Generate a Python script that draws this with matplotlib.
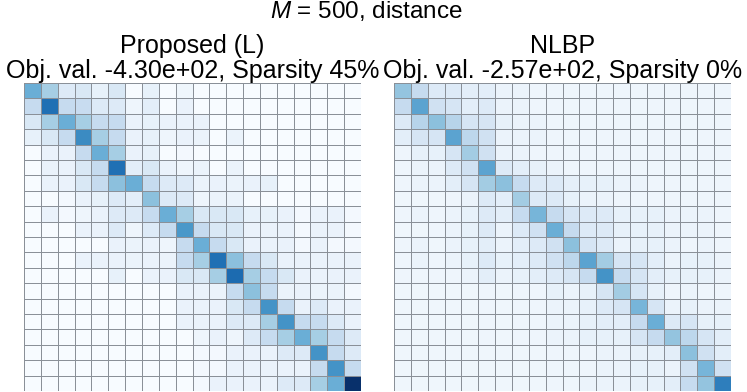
import numpy as np
import matplotlib
matplotlib.use("Agg")
import matplotlib.pyplot as plt

plt.rcParams['font.family'] = ['Liberation Sans', 'DejaVu Sans']
plt.rcParams['mathtext.fontset'] = 'custom'
plt.rcParams['mathtext.rm'] = 'Liberation Sans'
plt.rcParams['mathtext.it'] = 'Liberation Sans:italic'

suptitle = "$M$ = 500, distance"
titles = ["Proposed (L)\nObj. val. -4.30e+02, Sparsity 45%",
          "NLBP\nObj. val. -2.57e+02, Sparsity 0%"]

proposed = [
    [.50, .35, .13, .15, .08, .15, 0, .08, 0, .04, 0, 0, 0, 0, 0, 0, 0, 0, 0, 0],
    [.25, .75, .25, .24, .13, .13, .05, .10, 0, .07, 0, 0, 0, 0, 0, 0, 0, 0, 0, 0],
    [.15, .35, .50, .35, .25, .25, .07, .08, .07, .07, .07, 0, 0, 0, 0, 0, 0, 0, 0, 0],
    [.08, .15, .25, .65, .35, .25, .07, .08, .05, .07, .06, 0, .06, 0, 0, 0, 0, 0, 0, 0],
    [0, .07, .07, .25, .50, .35, .07, .08, 0, .02, 0, 0, 0, 0, 0, 0, 0, 0, 0, 0],
    [0, .07, .07, .15, .25, .75, .10, .15, .07, .05, .06, 0, .06, 0, 0, 0, 0, 0, 0, 0],
    [0, .07, .07, .15, .25, .42, .50, .25, .13, .13, .06, .07, .06, .07, .08, 0, 0, 0, 0, 0],
    [0, 0, .02, .07, .08, .13, .10, .42, .13, .13, .05, .06, .06, 0, 0, 0, 0, 0, 0, 0],
    [0, .07, .02, .05, .07, .13, .13, .25, .50, .35, .15, .15, .15, .08, .08, .07, .02, .07, .07, .02],
    [0, 0, 0, .07, .07, .13, .05, .13, .25, .60, .25, .15, .15, .07, .07, .07, .02, .07, .07, .02],
    [0, 0, 0, 0, 0, .07, .06, .07, .05, .25, .50, .25, .15, .07, .07, .07, .02, .07, .02, .02],
    [0, 0, 0, .07, .07, .07, .06, .07, .06, .25, .35, .75, .42, .25, .15, .07, .07, .07, .07, .07],
    [0, 0, 0, 0, 0, .08, 0, .07, .07, .15, .15, .35, .77, .35, .25, .15, .07, .07, .07, .07],
    [0, 0, 0, 0, 0, 0, 0, 0, 0, .07, .07, .06, .25, .42, .25, .06, .07, .06, .06, .02],
    [0, 0, 0, 0, 0, 0, 0, 0, 0, .07, .07, .07, .15, .25, .62, .25, .07, .13, .07, .07],
    [0, 0, 0, 0, 0, 0, 0, 0, 0, .07, .07, .07, .13, .13, .35, .62, .25, .25, .13, .07],
    [0, 0, 0, 0, 0, 0, 0, 0, 0, 0, .05, .07, .05, .13, .25, .35, .50, .35, .25, .13],
    [0, 0, 0, 0, 0, 0, 0, 0, 0, 0, .02, .02, .07, .07, .07, .13, .13, .62, .25, .13],
    [0, 0, 0, 0, 0, 0, 0, 0, 0, 0, .02, .02, .07, .07, .07, .07, .07, .25, .62, .25],
    [0, 0, 0, 0, 0, 0, 0, 0, 0, 0, .02, .07, .07, .07, .07, .13, .13, .35, .50, 1.0],
]

nlbp = [
    [.40, .25, .13, .13, .10, .10, .06, .06, .05, .05, .05, .05, .05, .05, .05, .05, .05, .05, .05, .05],
    [.25, .55, .20, .17, .10, .13, .06, .06, .05, .05, .05, .05, .05, .05, .05, .05, .05, .05, .05, .05],
    [.13, .30, .42, .30, .17, .17, .08, .06, .06, .05, .05, .05, .05, .05, .05, .05, .05, .05, .05, .05],
    [.10, .17, .17, .55, .28, .20, .06, .06, .06, .05, .05, .05, .05, .05, .05, .05, .05, .05, .05, .05],
    [.05, .08, .08, .17, .36, .20, .06, .06, .05, .05, .05, .05, .05, .05, .05, .05, .05, .05, .05, .05],
    [.05, .06, .06, .13, .20, .55, .13, .10, .08, .06, .05, .05, .05, .05, .05, .05, .05, .05, .05, .05],
    [.05, .06, .06, .10, .17, .36, .42, .25, .13, .13, .09, .08, .08, .06, .06, .05, .05, .05, .05, .05],
    [.04, .04, .04, .05, .06, .13, .10, .36, .13, .13, .08, .06, .06, .05, .05, .05, .05, .05, .05, .05],
    [.05, .06, .05, .06, .08, .13, .10, .25, .47, .25, .17, .13, .13, .08, .08, .08, .06, .06, .06, .05],
    [.04, .04, .05, .06, .08, .13, .06, .13, .20, .50, .25, .13, .13, .08, .08, .08, .06, .06, .06, .05],
    [.05, .06, .04, .06, .08, .10, .06, .10, .13, .20, .42, .17, .13, .06, .08, .08, .06, .05, .06, .05],
    [.05, .06, .05, .06, .08, .13, .08, .10, .13, .20, .28, .55, .36, .17, .17, .10, .06, .08, .08, .06],
    [.05, .05, .05, .05, .06, .10, .06, .08, .10, .13, .17, .25, .62, .25, .17, .10, .08, .08, .08, .06],
    [.04, .04, .04, .04, .04, .05, .04, .05, .05, .08, .06, .08, .17, .36, .17, .08, .05, .06, .05, .05],
    [.04, .04, .04, .04, .04, .05, .04, .05, .05, .06, .06, .08, .13, .17, .47, .17, .06, .08, .06, .06],
    [.04, .04, .04, .04, .04, .05, .04, .05, .05, .06, .06, .08, .10, .10, .25, .50, .13, .17, .08, .08],
    [.04, .04, .04, .04, .04, .05, .04, .05, .05, .06, .06, .08, .08, .08, .17, .25, .40, .28, .17, .10],
    [.04, .04, .04, .04, .04, .04, .04, .04, .04, .05, .05, .05, .06, .06, .08, .08, .10, .42, .20, .10],
    [.04, .04, .04, .04, .04, .04, .04, .04, .04, .05, .05, .05, .06, .06, .08, .08, .06, .20, .47, .20],
    [.04, .04, .04, .04, .04, .04, .04, .04, .04, .05, .05, .06, .06, .06, .08, .08, .10, .25, .40, .70],
]

W, H = 747, 392
fig = plt.figure(figsize=(W / 100, H / 100), dpi=100)

# axes boxes in pixels: left, top, right, bottom
boxes = [(24, 83, 361, 391), (394, 83, 731, 391)]

for (l, t, r, b), mat, ttl in zip(boxes, [proposed, nlbp], titles):
    ax = fig.add_axes([l / W, 1 - b / H, (r - l) / W, (b - t) / H])
    m = np.array(mat)
    ax.pcolormesh(m, cmap="Blues", vmin=0, vmax=1,
                  edgecolors="#8a9098", linewidth=0.55)
    ax.set_xlim(0, m.shape[1])
    ax.set_ylim(m.shape[0], 0)
    ax.set_xticks([])
    ax.set_yticks([])
    for s in ax.spines.values():
        s.set_visible(False)
    line1, line2 = ttl.split("\n")
    cx = (l + r) / 2 / W
    fig.text(cx, 1 - 52.7 / H, line1, ha="center", va="baseline", fontsize=18)
    fig.text(cx, 1 - 78.3 / H, line2, ha="center", va="baseline", fontsize=18)

fig.text(0.49, 1 - 18 / H, suptitle, ha="center", va="baseline", fontsize=17.5)

fig.savefig("out.png", dpi=100)
